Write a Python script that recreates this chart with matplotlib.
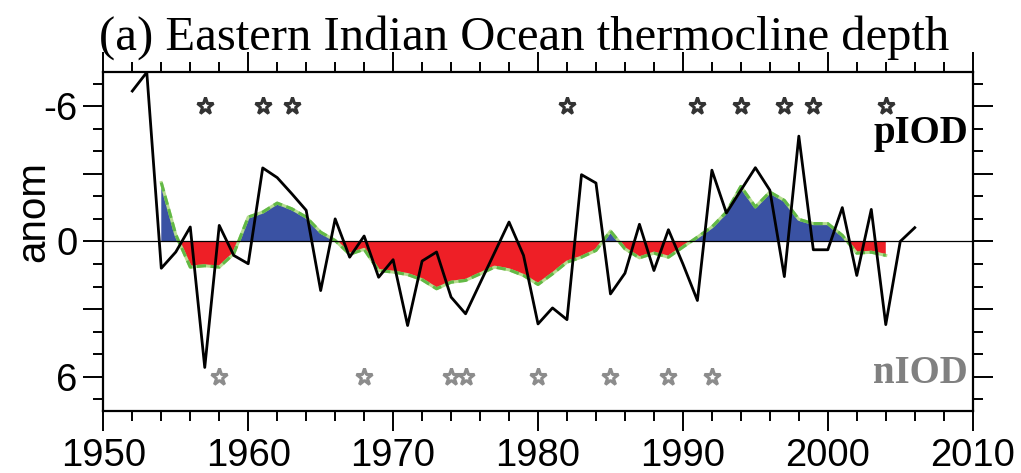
import matplotlib
matplotlib.use("Agg")
import matplotlib.pyplot as plt
import numpy as np
from matplotlib.ticker import MultipleLocator, FixedLocator, FixedFormatter

# yearly thermocline depth anomaly (black line)
years = np.arange(1952, 2007)
anom = [-6.67, -7.5, 1.19, 0.47, -0.64, 5.59, -0.71, 0.62, 0.99, -3.26,
        -2.83, -2.12, -1.38, 2.18, -1.0, 0.70, -0.24, 1.59, 0.81, 3.73,
        0.87, 0.47, 2.47, 3.21, 1.85, 0.5, -0.86, 0.62, 3.66, 2.95,
        3.47, -2.96, -2.59, 2.33, 1.41, -0.76, 1.29, -0.52, 1.0, 2.62,
        -3.16, -1.26, -2.27, -3.27, -2.27, 1.56, -4.67, 0.37, 0.37, -1.5,
        1.51, -1.42, 3.69, 0.0, -0.61]

# smoothed series (shaded)
sm_years = np.arange(1954, 2005)
smooth = [-2.61, -0.3, 1.14, 1.08, 1.14, 0.55, -1.08, -1.30, -1.70, -1.45,
          -1.08, -0.41, -0.04, 0.57, 0.35, 1.29, 1.36, 1.47, 1.70, 2.10,
          1.81, 1.73, 1.44, 1.14, 1.26, 1.51, 1.91, 1.44, 0.92, 0.70,
          0.40, -0.46, 0.33, 0.73, 0.52, 0.70, 0.25, -0.19, -0.64, -1.30,
          -2.44, -1.53, -2.19, -1.82, -0.98, -0.79, -0.79, -0.27, 0.52, 0.48,
          0.62]

# IOD event years
piod_years = [1957, 1961, 1963, 1982, 1991, 1994, 1997, 1999, 2004]
niod_years = [1958, 1968, 1974, 1975, 1980, 1985, 1989, 1992]

sans = "Liberation Sans"
serif = "Liberation Serif"
PX = 72.0 / 100  # points per pixel at dpi 100

fig = plt.figure(figsize=(10.21, 4.73), dpi=100)
ax = fig.add_axes([0.1012, 0.1321, 0.8515, 0.715])

sx = np.array(sm_years, float)
sy = np.array(smooth)
ax.fill_between(sx, 0, sy, where=sy <= 0, interpolate=True,
                color="#3A52A3", linewidth=0, zorder=1)
ax.fill_between(sx, 0, sy, where=sy >= 0, interpolate=True,
                color="#EE1F26", linewidth=0, zorder=1)
ax.plot(sx, sy, color="#B5DD8F", lw=2.2, zorder=2)
ax.plot(sx, sy, color="#62B946", lw=2.2, dashes=(3, 1.5), zorder=2)

ax.axhline(0, color="black", lw=0.9, zorder=3)
ax.plot(years, anom, color="black", lw=2.0, zorder=4)

ax.plot(piod_years, [-6] * len(piod_years), ls="none", marker="*",
        ms=12.5, mfc="white", mec="#333333", mew=2.2, zorder=5)
ax.plot(niod_years, [6] * len(niod_years), ls="none", marker="*",
        ms=12.5, mfc="white", mec="#8C8C8C", mew=2.2, zorder=5)

ax.text(0.9946, 0.791, "pIOD", transform=ax.transAxes, ha="right",
        va="baseline", fontsize=28, fontweight="bold", family=serif,
        color="black")
ax.text(0.9946, 0.0804, "nIOD", transform=ax.transAxes, ha="right",
        va="baseline", fontsize=28, fontweight="bold", family=serif,
        color="#808080")

ax.set_xlim(1950, 2010)
ax.set_ylim(7.5, -7.5)

ax.xaxis.set_major_locator(MultipleLocator(10))
ax.xaxis.set_minor_locator(MultipleLocator(2))
ax.yaxis.set_major_locator(FixedLocator([-6, -3, 0, 3, 6]))
ax.yaxis.set_major_formatter(FixedFormatter(["-6", "", "0", "", "6"]))
ax.yaxis.set_minor_locator(MultipleLocator(1))

ax.tick_params(which="both", direction="out", top=True, right=True,
               width=1.4, labelsize=27.5)
ax.tick_params(which="major", length=20 * PX)
ax.tick_params(which="minor", length=10 * PX)
ax.tick_params(axis="x", pad=7 * PX)
ax.tick_params(axis="y", pad=6 * PX)
for lab in ax.get_xticklabels() + ax.get_yticklabels():
    lab.set_family(sans)
for sp in ax.spines.values():
    sp.set_linewidth(1.6)

fig.text(524 / 1021, 1 - 50 / 473, "(a) Eastern Indian Ocean thermocline depth",
         ha="center", va="baseline", fontsize=35, family=serif)
fig.text(33 / 1021, 1 - 212 / 473, "anom", rotation=90, ha="center",
         va="center", fontsize=29, family=sans)

fig.savefig("out.png", dpi=100)
